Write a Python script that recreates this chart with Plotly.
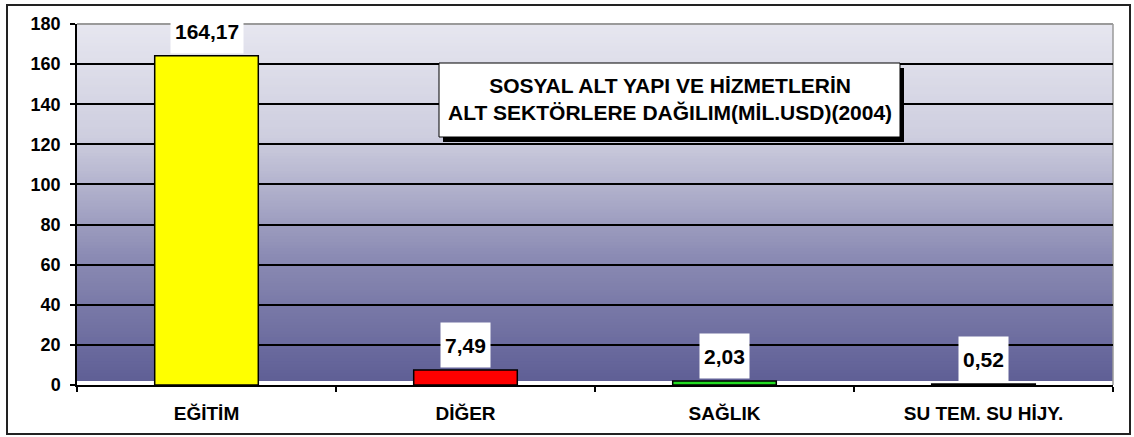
import plotly.graph_objects as go

categories = ["EĞİTİM", "DİĞER", "SAĞLIK", "SU TEM. SU HİJY."]
values = [164.17, 7.49, 2.03, 0.52]
value_labels = ["164,17", "7,49", "2,03", "0,52"]
bar_colors = ["#FFFF00", "#FF0000", "#22DD22", "#000000"]
y_ticks = [0, 20, 40, 60, 80, 100, 120, 140, 160, 180]
title_lines = ["SOSYAL ALT YAPI VE HİZMETLERİN", "ALT SEKTÖRLERE DAĞILIM(MİL.USD)(2004)"]

FONT = "Liberation Sans, Arial, sans-serif"
W, H = 1134, 437
L, R, T, B = 77, 21, 24, 52
PW, PH = W - L - R, H - T - B


def px_x(x):
    return (x - L) / PW


def px_y(y):
    return (H - B - y) / PH


fig = go.Figure()
fig.add_trace(go.Bar(
    x=categories, y=values,
    marker=dict(color=bar_colors, line=dict(color="black", width=1.5)),
    width=0.4, hoverinfo="x+y",
))

shapes = []
# gradient plot background (drawn top to bottom, each strip overlapping the next)
stops = [(0.0, (231, 231, 240)), (0.32, (206, 206, 223)), (0.65, (140, 140, 180)), (1.0, (95, 95, 150))]
n = 120
y_bottom = 4 / PH
for i in range(n):
    f0 = i / n
    f1 = (i + 1) / n
    fm = (f0 + f1) / 2
    for j in range(len(stops) - 1):
        if stops[j][0] <= fm <= stops[j + 1][0]:
            a, ca = stops[j]
            b, cb = stops[j + 1]
            t = (fm - a) / (b - a)
            col = tuple(int(round(ca[k] + t * (cb[k] - ca[k]))) for k in range(3))
            break
    ytop = 1 - f0 * (1 - y_bottom)
    ybot = 1 - f1 * (1 - y_bottom)
    shapes.append(dict(type="rect", xref="paper", yref="paper", x0=0, x1=1,
                       y0=ybot, y1=min(1.0, ytop + 2.0 / PH),
                       fillcolor="rgb(%d,%d,%d)" % col, line=dict(width=0), layer="below"))

# gray top and right plot border
shapes.append(dict(type="line", xref="paper", yref="paper", x0=0, x1=1, y0=1, y1=1,
                   line=dict(color="#9a9a9a", width=2), layer="between"))
shapes.append(dict(type="line", xref="paper", yref="paper", x0=1, x1=1, y0=0, y1=1,
                   line=dict(color="#9a9a9a", width=1.5), layer="between"))

# title box with shadow
bx0, bx1, by0, by1 = 439, 900, 63, 137
shapes.append(dict(type="rect", xref="paper", yref="paper",
                   x0=px_x(bx0 + 4), x1=px_x(bx1 + 4), y0=px_y(by1 + 5), y1=px_y(by0 + 5),
                   fillcolor="black", line=dict(width=0), layer="above"))
shapes.append(dict(type="rect", xref="paper", yref="paper",
                   x0=px_x(bx0), x1=px_x(bx1), y0=px_y(by1), y1=px_y(by0),
                   fillcolor="white", line=dict(color="black", width=1), layer="above"))
# outer chart border
shapes.append(dict(type="rect", xref="paper", yref="paper",
                   x0=px_x(7), x1=px_x(1130), y0=px_y(434), y1=px_y(5),
                   fillcolor="rgba(0,0,0,0)", line=dict(color="#222222", width=2), layer="above"))

annotations = [dict(
    xref="paper", yref="paper", x=px_x((bx0 + bx1) / 2), y=px_y((by0 + by1) / 2 - 1),
    text="<br>".join(title_lines), showarrow=False, align="center",
    font=dict(family=FONT, size=21, color="black", weight="bold"),
    xanchor="center", yanchor="middle",
)]
for c, v, lab in zip(categories, values, value_labels):
    annotations.append(dict(
        x=c, y=v, xref="x", yref="y", text=lab, showarrow=False,
        yanchor="bottom", xanchor="center", yshift=2,
        bgcolor="white", borderpad=4, height=36,
        font=dict(family=FONT, size=21, color="black", weight="bold"),
    ))

fig.update_layout(
    width=W, height=H,
    margin=dict(l=L, r=R, t=T, b=B, pad=0),
    paper_bgcolor="white", plot_bgcolor="rgba(0,0,0,0)",
    showlegend=False,
    shapes=shapes, annotations=annotations,
    bargap=0.6,
    font=dict(family=FONT, color="black"),
)
fig.update_xaxes(
    type="category", showgrid=False, showline=True, linecolor="black", linewidth=1.5,
    ticks="outside", tickson="boundaries", ticklen=5, tickcolor="black", tickwidth=1.5,
    tickfont=dict(family=FONT, size=19, color="black", weight="bold"),
    ticklabelstandoff=10, zeroline=False,
)
fig.update_yaxes(
    range=[0, 180], tickvals=y_ticks, ticktext=[str(v) for v in y_ticks],
    showgrid=True, gridcolor="black", gridwidth=1.5,
    showline=True, linecolor="black", linewidth=1.5,
    ticks="outside", ticklen=5, tickcolor="black", tickwidth=1.5,
    tickfont=dict(family=FONT, size=18, color="black", weight="bold"),
    ticklabelstandoff=6, zeroline=False,
)

fig.write_html("out.html", config={"displayModeBar": False},
               post_script="document.body.style.margin='0';")
